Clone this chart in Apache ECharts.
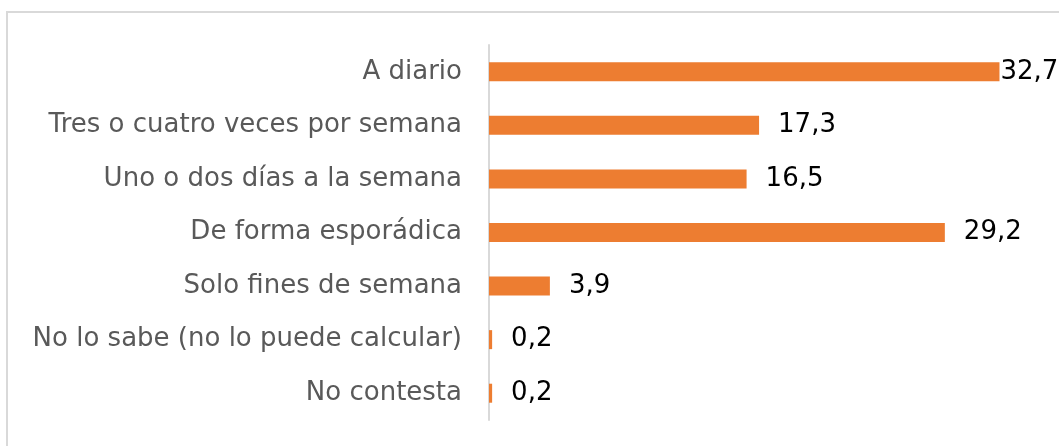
<!DOCTYPE html>
<html>
<head>
<meta charset="utf-8">
<script src="https://cdn.jsdelivr.net/npm/echarts@6/dist/echarts.min.js"></script>
<style>
  html, body { margin: 0; padding: 0; background: #fff; }
  #chart { width: 1059px; height: 446px; }
</style>
</head>
<body>
<div id="chart"></div>
<script>
// Frequency categories, top to bottom
const categories = [
  'A diario',
  'Tres o cuatro veces por semana',
  'Uno o dos días a la semana',
  'De forma esporádica',
  'Solo fines de semana',
  'No lo sabe (no lo puede calcular)',
  'No contesta'
];
// Percentages for each category
const values = [32.7, 17.3, 16.5, 29.2, 3.9, 0.2, 0.2];

const FONT = '"DejaVu Sans"';

const chart = echarts.init(document.getElementById('chart'), null, { renderer: 'canvas' });

// The longest bar's label sits right at the bar end
const maxVal = Math.max(...values);
const seriesData = values.map(v => v === maxVal ? { value: v, label: { distance: 1 } } : v);

chart.setOption({
  animation: false,
  graphic: [{
    type: 'rect',
    shape: { x: 7, y: 12, width: 1200, height: 600 },
    style: { fill: 'none', stroke: '#D9D9D9', lineWidth: 2 },
    silent: true
  }],
  grid: { left: 489, top: 45, width: 562, height: 375, containLabel: false },
  xAxis: {
    type: 'value', min: 0, max: 36,
    show: false
  },
  yAxis: {
    type: 'category',
    data: categories,
    inverse: true,
    axisLine: { show: true, lineStyle: { color: '#D9D9D9', width: 2 } },
    axisTick: { show: false },
    axisLabel: { color: '#595959', fontFamily: FONT, fontSize: 26, margin: 27 }
  },
  series: [{
    type: 'bar',
    data: seriesData,
    barWidth: 19,
    itemStyle: { color: '#ED7D31' },
    label: {
      show: true,
      position: 'right',
      distance: 19,
      color: '#000',
      fontFamily: FONT,
      fontSize: 26,
      formatter: p => String(p.value).replace('.', ',')
    }
  }]
});
</script>
</body>
</html>
